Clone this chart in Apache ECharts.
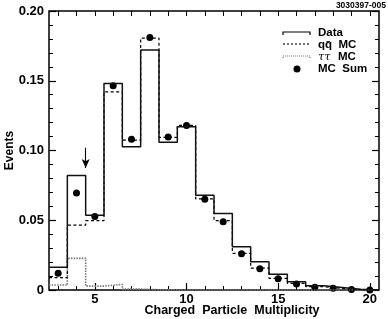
<!DOCTYPE html>
<html><head><meta charset="utf-8">
<script src="https://cdn.jsdelivr.net/npm/echarts@6/dist/echarts.min.js"></script>
<style>html,body{margin:0;padding:0;background:#fff}#c{width:388px;height:319px}</style>
</head><body><div id="c"></div>
<script>
const binCenters = [3,4,5,6,7,8,9,10,11,12,13,14,15,16,17,18,19,20];
const dataValues = [0.0163,0.082,0.0535,0.148,0.1027,0.172,0.106,0.117,0.068,0.0548,0.031,0.0203,0.0113,0.006,0.003,0.0018,0.0005,0];
const qqValues   = [0.0088,0.0465,0.0497,0.142,0.1074,0.1806,0.1094,0.118,0.0653,0.0497,0.0263,0.0157,0.0084,0.0048,0.0024,0.0011,0.0003,0];
const tauValues  = [0.0036,0.0227,0.0028,0.004,0.0006,0.0002,0,0,0,0,0,0,0,0,0,0,0,0];
const sumValues  = [0.012,0.0695,0.0527,0.1465,0.108,0.181,0.1096,0.118,0.065,0.049,0.026,0.0153,0.0081,0.0043,0.002,0.0012,0.0003,0];
const yTicks = [0,0.05,0.10,0.15,0.20];
const xLabelTicks = [5,10,15,20];
const arrowX = 4.5, arrowTop = 0.102, arrowBottom = 0.0875;

function stepData(vals){
  const out = [];
  binCenters.forEach((c,i)=>out.push([c-0.5, vals[i]]));
  out.push([binCenters[binCenters.length-1]+0.5, vals[vals.length-1]]);
  return out;
}
const FONT = 'Liberation Sans, Arial, sans-serif';
const chart = echarts.init(document.getElementById('c'), null, {renderer:'canvas'});
const intTicks = binCenters.slice();
const baseX = {type:'value', min:2.5, max:20.5, splitLine:{show:false}};
chart.setOption({
  animation:false,
  grid:{left:49,right:9,top:11,bottom:29,show:true,borderColor:'#000',borderWidth:1.5,
    containLabel:false,outerBoundsMode:'none'},
  xAxis:[
    Object.assign({}, baseX, {position:'bottom',
      axisLine:{show:false},
      axisTick:{show:true,inside:true,length:7,customValues:xLabelTicks,lineStyle:{color:'#000',width:1.2}},
      axisLabel:{customValues:xLabelTicks,color:'#000',fontFamily:FONT,fontWeight:'bold',fontSize:13,margin:3},
      name:'Charged  Particle  Multiplicity',nameLocation:'middle',nameGap:14,nameMoveOverlap:false,
      nameTextStyle:{color:'#000',fontFamily:FONT,fontWeight:'bold',fontSize:12.5,padding:[0,0,0,36]}}),
    Object.assign({}, baseX, {position:'bottom',
      axisLine:{show:false},axisLabel:{show:false},
      axisTick:{show:true,inside:true,length:4,customValues:intTicks,lineStyle:{color:'#000',width:1}}}),
    Object.assign({}, baseX, {position:'top',
      axisLine:{show:false},axisLabel:{show:false},
      axisTick:{show:true,inside:true,length:5,customValues:intTicks,lineStyle:{color:'#000',width:1}}})
  ],
  yAxis:[
    {type:'value',min:0,max:0.2,interval:0.05,position:'left',splitLine:{show:false},
      axisLine:{show:false},
      axisTick:{show:true,inside:true,length:7,lineStyle:{color:'#000',width:1.2}},
      minorTick:{show:true,splitNumber:5,length:4,lineStyle:{color:'#000',width:1}},
      axisLabel:{color:'#000',fontFamily:FONT,fontWeight:'bold',fontSize:13,margin:5,
        formatter:v=>v===0?'0':v.toFixed(2)},
      name:'Events',nameLocation:'middle',nameGap:33,nameRotate:90,nameMoveOverlap:false,
      nameTextStyle:{color:'#000',fontFamily:FONT,fontWeight:'bold',fontSize:12}},
    {type:'value',min:0,max:0.2,interval:0.05,position:'right',splitLine:{show:false},
      axisLine:{show:false},axisLabel:{show:false},
      axisTick:{show:true,inside:true,length:7,lineStyle:{color:'#000',width:1.2}},
      minorTick:{show:true,splitNumber:5,length:4,lineStyle:{color:'#000',width:1}}}
  ],
  series:[
    {type:'line',step:'end',data:stepData(tauValues),symbol:'none',
      lineStyle:{color:'#777',width:1.6,type:[1.5,1.2]}},
    {type:'line',step:'end',data:stepData(qqValues),symbol:'none',
      lineStyle:{color:'#000',width:1.2,type:[3,2.5]}},
    {type:'line',step:'end',data:stepData(dataValues),symbol:'none',
      lineStyle:{color:'#111',width:1.5},
      markLine:{silent:true,symbol:['none','arrow'],symbolSize:[6,9],
        lineStyle:{color:'#000',width:1.1,type:'solid'},label:{show:false},
        data:[[{coord:[arrowX,arrowTop]},{coord:[arrowX,arrowBottom]}]]}},
    {type:'scatter',data:binCenters.map((c,i)=>[c,sumValues[i]]),symbol:'circle',symbolSize:7,
      itemStyle:{color:'#000',opacity:1}}
  ],
  graphic:[
    {type:'text',right:2,top:1,style:{text:'3030397-005',fill:'#000',font:'bold 8.5px '+FONT}},
    {type:'polyline',shape:{points:[[283,35],[283,32],[310,32],[310,35]]},style:{stroke:'#000',lineWidth:1.2,fill:null}},
    {type:'text',left:318,top:27,style:{text:'Data',fill:'#000',font:'bold 11.5px '+FONT}},
    {type:'line',shape:{x1:283,y1:44,x2:310,y2:44},style:{stroke:'#000',lineWidth:1.1,lineDash:[2,2]}},
    {type:'text',left:318,top:39,style:{text:'qq\u0304  MC',fill:'#000',font:'bold 11.5px '+FONT}},
    {type:'polyline',shape:{points:[[283,58],[283,56],[310,56],[310,58]]},style:{stroke:'#777',lineWidth:1.2,fill:null,lineDash:[1,1]}},
    {type:'text',left:318,top:51,style:{text:'\u03c4\u03c4',fill:'#000',font:'italic 11.5px "DejaVu Serif", serif'}},
    {type:'text',left:338,top:51,style:{text:'MC',fill:'#000',font:'bold 11.5px '+FONT}},
    {type:'circle',shape:{cx:297,cy:69,r:3.5},style:{fill:'#000'}},
    {type:'text',left:318,top:63,style:{text:'MC  Sum',fill:'#000',font:'bold 11.5px '+FONT}}
  ]
});
</script></body></html>
